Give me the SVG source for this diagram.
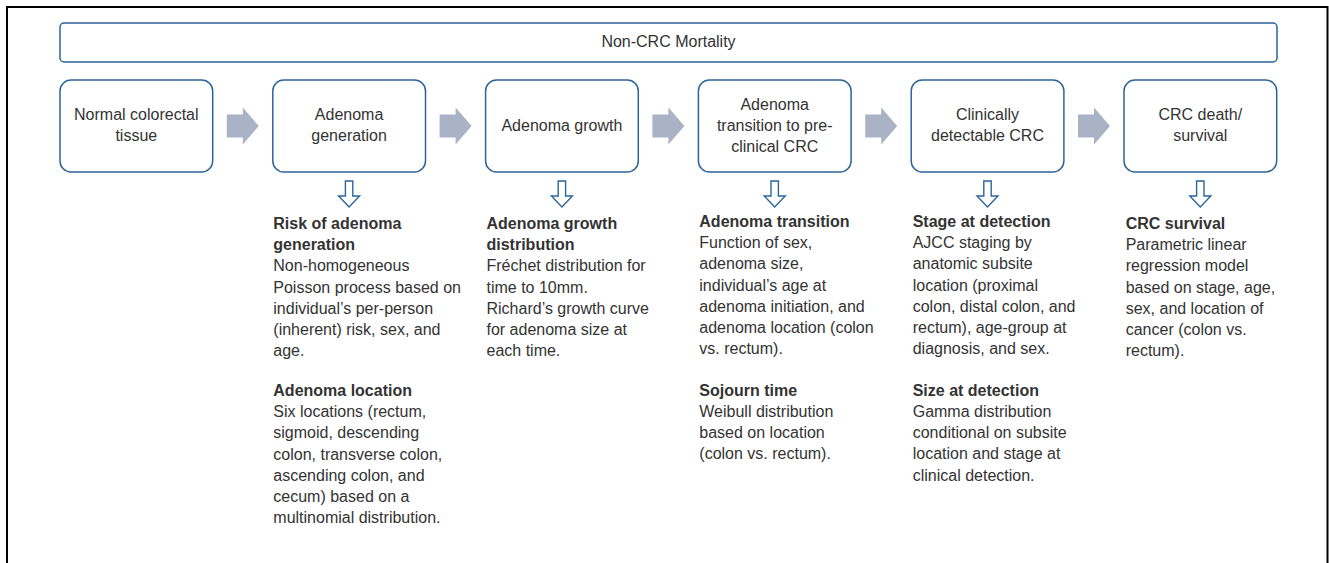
<svg xmlns="http://www.w3.org/2000/svg" width="1329" height="563" viewBox="0 0 1329 563">
  <style>
    .frame { fill: none; stroke: #000; stroke-width: 2; }
    .box { fill: #fff; stroke: #2d6499; stroke-width: 1.5; }
    .lbl { font-family: "Liberation Sans", Arial, sans-serif; font-size: 16px; fill: #333; text-anchor: middle; }
    .txt { font-family: "Liberation Sans", Arial, sans-serif; font-size: 16px; fill: #333; }
    .hd { font-weight: bold; }
    .flow { fill: #aab3c6; }
    .down { fill: #fff; stroke: #2d6499; stroke-width: 1.4; stroke-linejoin: miter; }
  </style>
  <defs>
    <!-- block arrow between stages, centred on origin -->
    <path id="flowArrow" class="flow" d="M-16,-11.5 H0 V-18.5 L16,0 L0,18.5 V11.5 H-16 Z"/>
    <!-- hollow arrow from a stage down to its description -->
    <path id="downArrow" class="down" d="M-3.7,181 H3.7 V196 H10.5 L0,207 L-10.5,196 H-3.7 Z"/>
  </defs>

  <rect width="1329" height="563" fill="#fff"/>
  <path class="frame" d="M7,563 V7 H1327.5 V563"/>

  <g id="non-crc-mortality">
    <rect class="box" x="60" y="23" width="1217" height="39" rx="4"/>
    <text class="lbl" x="668.5" y="47">Non-CRC Mortality</text>
  </g>

  <g id="normal-tissue">
    <rect class="box" x="60" y="80" width="152.7" height="92" rx="11"/>
    <text class="lbl" x="136.3" y="120">Normal colorectal</text>
    <text class="lbl" x="136.3" y="141">tissue</text>
  </g>

  <g id="adenoma-generation">
    <rect class="box" x="272.8" y="80" width="152.7" height="92" rx="11"/>
    <text class="lbl" x="349.1" y="120">Adenoma</text>
    <text class="lbl" x="349.1" y="141">generation</text>
  </g>

  <g id="adenoma-growth">
    <rect class="box" x="485.6" y="80" width="152.7" height="92" rx="11"/>
    <text class="lbl" x="561.9" y="130.5">Adenoma growth</text>
  </g>

  <g id="adenoma-transition">
    <rect class="box" x="698.4" y="80" width="152.7" height="92" rx="11"/>
    <text class="lbl" x="774.7" y="110">Adenoma</text>
    <text class="lbl" x="774.7" y="131">transition to pre-</text>
    <text class="lbl" x="774.7" y="152">clinical CRC</text>
  </g>

  <g id="clinical-crc">
    <rect class="box" x="911.2" y="80" width="152.7" height="92" rx="11"/>
    <text class="lbl" x="987.5" y="120">Clinically</text>
    <text class="lbl" x="987.5" y="141">detectable CRC</text>
  </g>

  <g id="crc-death">
    <rect class="box" x="1124" y="80" width="152.7" height="92" rx="11"/>
    <text class="lbl" x="1200.3" y="120">CRC death/</text>
    <text class="lbl" x="1200.3" y="141">survival</text>
  </g>

  <g id="connectors">
    <use href="#flowArrow" x="242.8" y="126"/>
    <use href="#flowArrow" x="455.6" y="126"/>
    <use href="#flowArrow" x="668.4" y="126"/>
    <use href="#flowArrow" x="881.2" y="126"/>
    <use href="#flowArrow" x="1094" y="126"/>
    <use href="#downArrow" x="349.1"/>
    <use href="#downArrow" x="561.9"/>
    <use href="#downArrow" x="774.7"/>
    <use href="#downArrow" x="987.5"/>
    <use href="#downArrow" x="1200.3"/>
  </g>

  <g id="generation-notes" class="txt">
    <text x="273.3" y="229" class="hd">Risk of adenoma</text>
    <text x="273.3" y="250.2" class="hd">generation</text>
    <text x="273.3" y="271.4">Non-homogeneous</text>
    <text x="273.3" y="292.6">Poisson process based on</text>
    <text x="273.3" y="313.8">individual’s per-person</text>
    <text x="273.3" y="335">(inherent) risk, sex, and</text>
    <text x="273.3" y="356.2">age.</text>
    <text x="273.3" y="396" class="hd">Adenoma location</text>
    <text x="273.3" y="417.2">Six locations (rectum,</text>
    <text x="273.3" y="438.4">sigmoid, descending</text>
    <text x="273.3" y="459.6">colon, transverse colon,</text>
    <text x="273.3" y="480.8">ascending colon, and</text>
    <text x="273.3" y="502">cecum) based on a</text>
    <text x="273.3" y="523.2">multinomial distribution.</text>
  </g>

  <g id="growth-notes" class="txt">
    <text x="486.5" y="229" class="hd">Adenoma growth</text>
    <text x="486.5" y="250.2" class="hd">distribution</text>
    <text x="486.5" y="271.4">Fréchet distribution for</text>
    <text x="486.5" y="292.6">time to 10mm.</text>
    <text x="486.5" y="313.8">Richard’s growth curve</text>
    <text x="486.5" y="335">for adenoma size at</text>
    <text x="486.5" y="356.2">each time.</text>
  </g>

  <g id="transition-notes" class="txt">
    <text x="699.3" y="227" class="hd">Adenoma transition</text>
    <text x="699.3" y="248.2">Function of sex,</text>
    <text x="699.3" y="269.4">adenoma size,</text>
    <text x="699.3" y="290.6">individual’s age at</text>
    <text x="699.3" y="311.8">adenoma initiation, and</text>
    <text x="699.3" y="333">adenoma location (colon</text>
    <text x="699.3" y="354.2">vs. rectum).</text>
    <text x="699.3" y="395.7" class="hd">Sojourn time</text>
    <text x="699.3" y="416.9">Weibull distribution</text>
    <text x="699.3" y="438.1">based on location</text>
    <text x="699.3" y="459.3">(colon vs. rectum).</text>
  </g>

  <g id="detection-notes" class="txt">
    <text x="912.7" y="227" class="hd">Stage at detection</text>
    <text x="912.7" y="248.2">AJCC staging by</text>
    <text x="912.7" y="269.4">anatomic subsite</text>
    <text x="912.7" y="290.6">location (proximal</text>
    <text x="912.7" y="311.8">colon, distal colon, and</text>
    <text x="912.7" y="333">rectum), age-group at</text>
    <text x="912.7" y="354.2">diagnosis, and sex.</text>
    <text x="912.7" y="395.7" class="hd">Size at detection</text>
    <text x="912.7" y="416.9">Gamma distribution</text>
    <text x="912.7" y="438.1">conditional on subsite</text>
    <text x="912.7" y="459.3">location and stage at</text>
    <text x="912.7" y="480.5">clinical detection.</text>
  </g>

  <g id="survival-notes" class="txt">
    <text x="1125.7" y="229" class="hd">CRC survival</text>
    <text x="1125.7" y="250.2">Parametric linear</text>
    <text x="1125.7" y="271.4">regression model</text>
    <text x="1125.7" y="292.6">based on stage, age,</text>
    <text x="1125.7" y="313.8">sex, and location of</text>
    <text x="1125.7" y="335">cancer (colon vs.</text>
    <text x="1125.7" y="356.2">rectum).</text>
  </g>
</svg>
